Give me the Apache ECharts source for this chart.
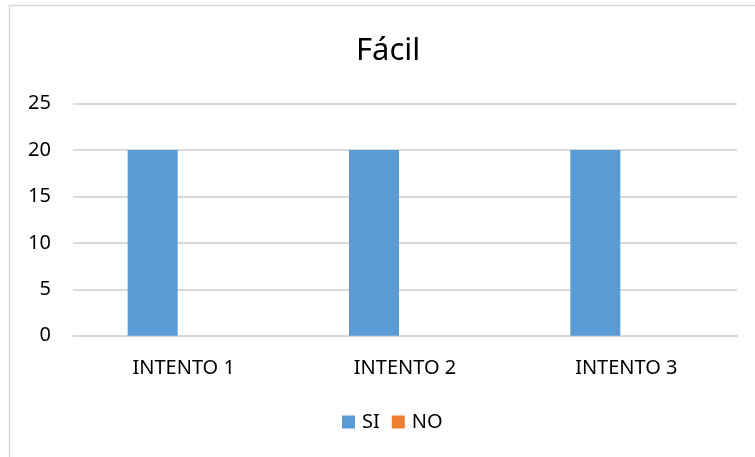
<!DOCTYPE html>
<html><head><meta charset="utf-8">
<script src="https://cdn.jsdelivr.net/npm/echarts@6/dist/echarts.min.js"></script>
<style>html,body{margin:0;padding:0;background:#fff}#c{width:755px;height:457px}</style>
</head><body><div id="c"></div>
<script>
const categories = ['INTENTO 1', 'INTENTO 2', 'INTENTO 3'];
const siValues = [20, 20, 20];
const noValues = [0, 0, 0];
const seriesNames = ['SI', 'NO'];
const titleText = 'Fácil';

const font = 'Noto Sans';
const chart = echarts.init(document.getElementById('c'), null, {renderer: 'canvas'});
chart.setOption({
  animation: false,
  backgroundColor: '#fff',
  graphic: [{
    type: 'rect', silent: true,
    shape: {x: 9.5, y: 5.5, width: 800, height: 500},
    style: {fill: 'none', stroke: '#d9d9d9', lineWidth: 1.5}
  }],
  title: {
    text: titleText, left: 351, top: 31,
    textStyle: {fontFamily: font, fontSize: 31, fontWeight: 'normal', color: '#000'}
  },
  legend: {
    data: seriesNames, left: 337, top: 407,
    itemWidth: 13, itemHeight: 13, itemGap: 12,
    icon: 'rect',
    textStyle: {fontFamily: font, fontSize: 20, color: '#000', padding: [0, 0, 0, 2]}
  },
  grid: {left: 73, right: 18, top: 103.7, bottom: 121.3, containLabel: false},
  xAxis: {
    type: 'category', data: categories,
    axisLine: {lineStyle: {color: '#d9d9d9', width: 2}},
    axisTick: {show: false},
    axisLabel: {fontFamily: font, fontSize: 20, color: '#000', margin: 23}
  },
  yAxis: {
    type: 'value', min: 0, max: 25, interval: 5,
    axisLine: {show: false}, axisTick: {show: false},
    splitLine: {lineStyle: {color: '#d9d9d9', width: 2}},
    axisLabel: {fontFamily: font, fontSize: 20, color: '#000', margin: 22}
  },
  series: [
    {name: seriesNames[0], type: 'bar', data: siValues, barWidth: 50, barGap: '24%', itemStyle: {color: '#5b9bd5'}},
    {name: seriesNames[1], type: 'bar', data: noValues, barWidth: 50, itemStyle: {color: '#ed7d31'}}
  ]
});
</script></body></html>
